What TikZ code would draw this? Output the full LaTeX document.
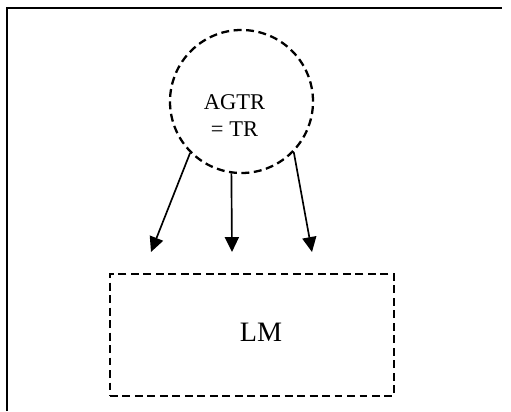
\documentclass[tikz,border=0pt]{standalone}
\usepackage{fontspec}
\setmainfont{Liberation Serif}
\usetikzlibrary{shapes,arrows.meta,positioning}

\begin{document}
\begin{tikzpicture}[
    dashy/.style={draw, dash pattern=on 4.5pt off 2.6pt, line width=1.3pt},
    arr/.style={-{Triangle[length=8.5pt,width=8pt]}, line width=0.95pt}]
    \useasboundingbox (0,0) rectangle (10.22,8.22);

    % Frame (only top and left edges show)
    \draw[line width=1.5pt] (0.14,0) -- (0.14,8.06) -- (10.04,8.06);

    % Trajector
    \node[dashy, circle, minimum size=2.86cm, inner sep=0pt] (agtr) at (4.83,6.19) {};
    \node[align=center, font=\fontsize{12.8}{15.4}\selectfont] (agtrtext) at (4.69,5.90) {AGTR\\= TR};

    % Landmark
    \node[dashy, minimum width=5.68cm, minimum height=2.44cm, inner sep=0pt] (lmbox) at (5.04,1.52) {};
    \node[font=\fontsize{16}{19}\selectfont] (lm) at (5.22,1.58) {LM};

    % Arrows
    \coordinate (tipa) at (3.02,3.18);
    \coordinate (tipb) at (4.64,3.18);
    \coordinate (tipc) at (6.24,3.18);
    \draw[arr] (agtr.225) -- (tipa);
    \draw[arr] (agtr.262) -- (tipb);
    \draw[arr] (agtr.316) -- (tipc);
\end{tikzpicture}
\end{document}
